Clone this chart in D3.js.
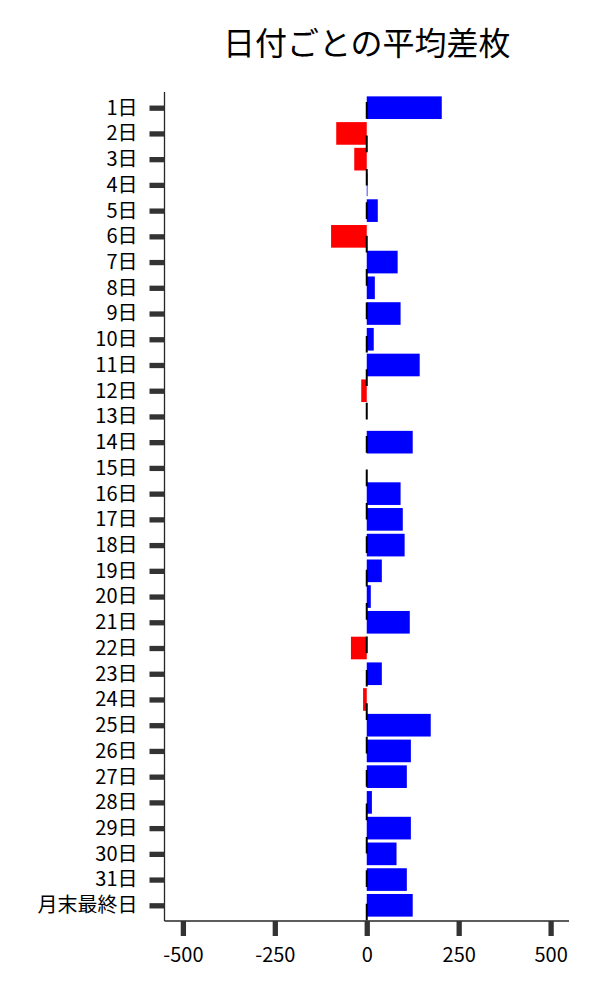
<!DOCTYPE html>
<html>
<head>
<meta charset="utf-8">
<script src="https://cdn.jsdelivr.net/npm/d3@7"></script>
<style>
  html, body { margin: 0; padding: 0; background: #fff; }
  svg text { font-family: "Noto Sans CJK JP", "Noto Sans", sans-serif; }
</style>
</head>
<body>
<svg id="chart" width="600" height="1000"></svg>
<script>
const title = "日付ごとの平均差枚";
const categories = ["1日","2日","3日","4日","5日","6日","7日","8日","9日","10日",
  "11日","12日","13日","14日","15日","16日","17日","18日","19日","20日",
  "21日","22日","23日","24日","25日","26日","27日","28日","29日","30日","31日","月末最終日"];
const values = [204, -83, -34, 2, 30, -97, 84, 22, 92, 19,
  144, -15, 0, 125, 0, 92, 98, 103, 41, 11,
  117, -43, 41, -10, 174, 120, 109, 14, 120, 81, 109, 125];
const xTicks = [-500, -250, 0, 250, 500];
const xDomain = [-550, 550];

(function () {
const svg = d3.select("#chart");
const pLeft = 164.5, pRight = 569, pTop = 92, pBottom = 921;
const fontFam = '"Noto Sans CJK JP", "Noto Sans", sans-serif';

const x = d3.scaleLinear().domain(xDomain).range([pLeft, pRight]);
const y = d3.scalePoint().domain(categories).range([pTop, pBottom]).padding(0.61);
const barH = y.step() * 0.88;

// bars
svg.append("g").selectAll("rect")
  .data(categories.map((c, i) => ({c, v: values[i]})))
  .join("rect")
  .attr("x", d => x(Math.min(0, d.v)))
  .attr("width", d => Math.abs(x(d.v) - x(0)))
  .attr("y", d => y(d.c) - barH / 2)
  .attr("height", barH)
  .attr("fill", d => d.v >= 0 ? "#0000ff" : "#ff0000");

// dashed zero line (drawn bottom to top, on top of bars)
svg.append("line")
  .attr("x1", x(0)).attr("x2", x(0))
  .attr("y1", pBottom).attr("y2", pTop)
  .attr("stroke", "#000")
  .attr("stroke-width", 2)
  .attr("stroke-dasharray", "16.7,16.7")
  .attr("stroke-dashoffset", -0.6);

// x axis
const xAxis = d3.axisBottom(x).tickValues(xTicks).tickSize(15).tickPadding(12).tickFormat(d => String(d));
const gx = svg.append("g").attr("transform", `translate(0,${pBottom})`).call(xAxis);
gx.select(".domain").attr("stroke", "#262626").attr("stroke-width", 1.3).attr("d", `M${pLeft},0H${pRight}`);
gx.selectAll(".tick line").attr("stroke", "#333").attr("stroke-width", 5.3);
gx.selectAll(".tick text").attr("font-size", 20).attr("fill", "#000").attr("font-family", fontFam);

// y axis
const yAxis = d3.axisLeft(y).tickSize(15).tickPadding(12);
const gy = svg.append("g").attr("transform", `translate(${pLeft},0)`).call(yAxis);
gy.select(".domain").attr("stroke", "#262626").attr("stroke-width", 1.3).attr("d", `M0,${pTop}V${pBottom}`);
gy.selectAll(".tick line").attr("stroke", "#333").attr("stroke-width", 5.3);
gy.selectAll(".tick text").attr("font-size", 20).attr("fill", "#000").attr("font-family", fontFam);

// title
svg.append("text")
  .attr("x", (pLeft + pRight) / 2)
  .attr("y", 55)
  .attr("text-anchor", "middle")
  .attr("font-size", 32)
  .attr("fill", "#000")
  .text(title);
})();
</script>
</body>
</html>
